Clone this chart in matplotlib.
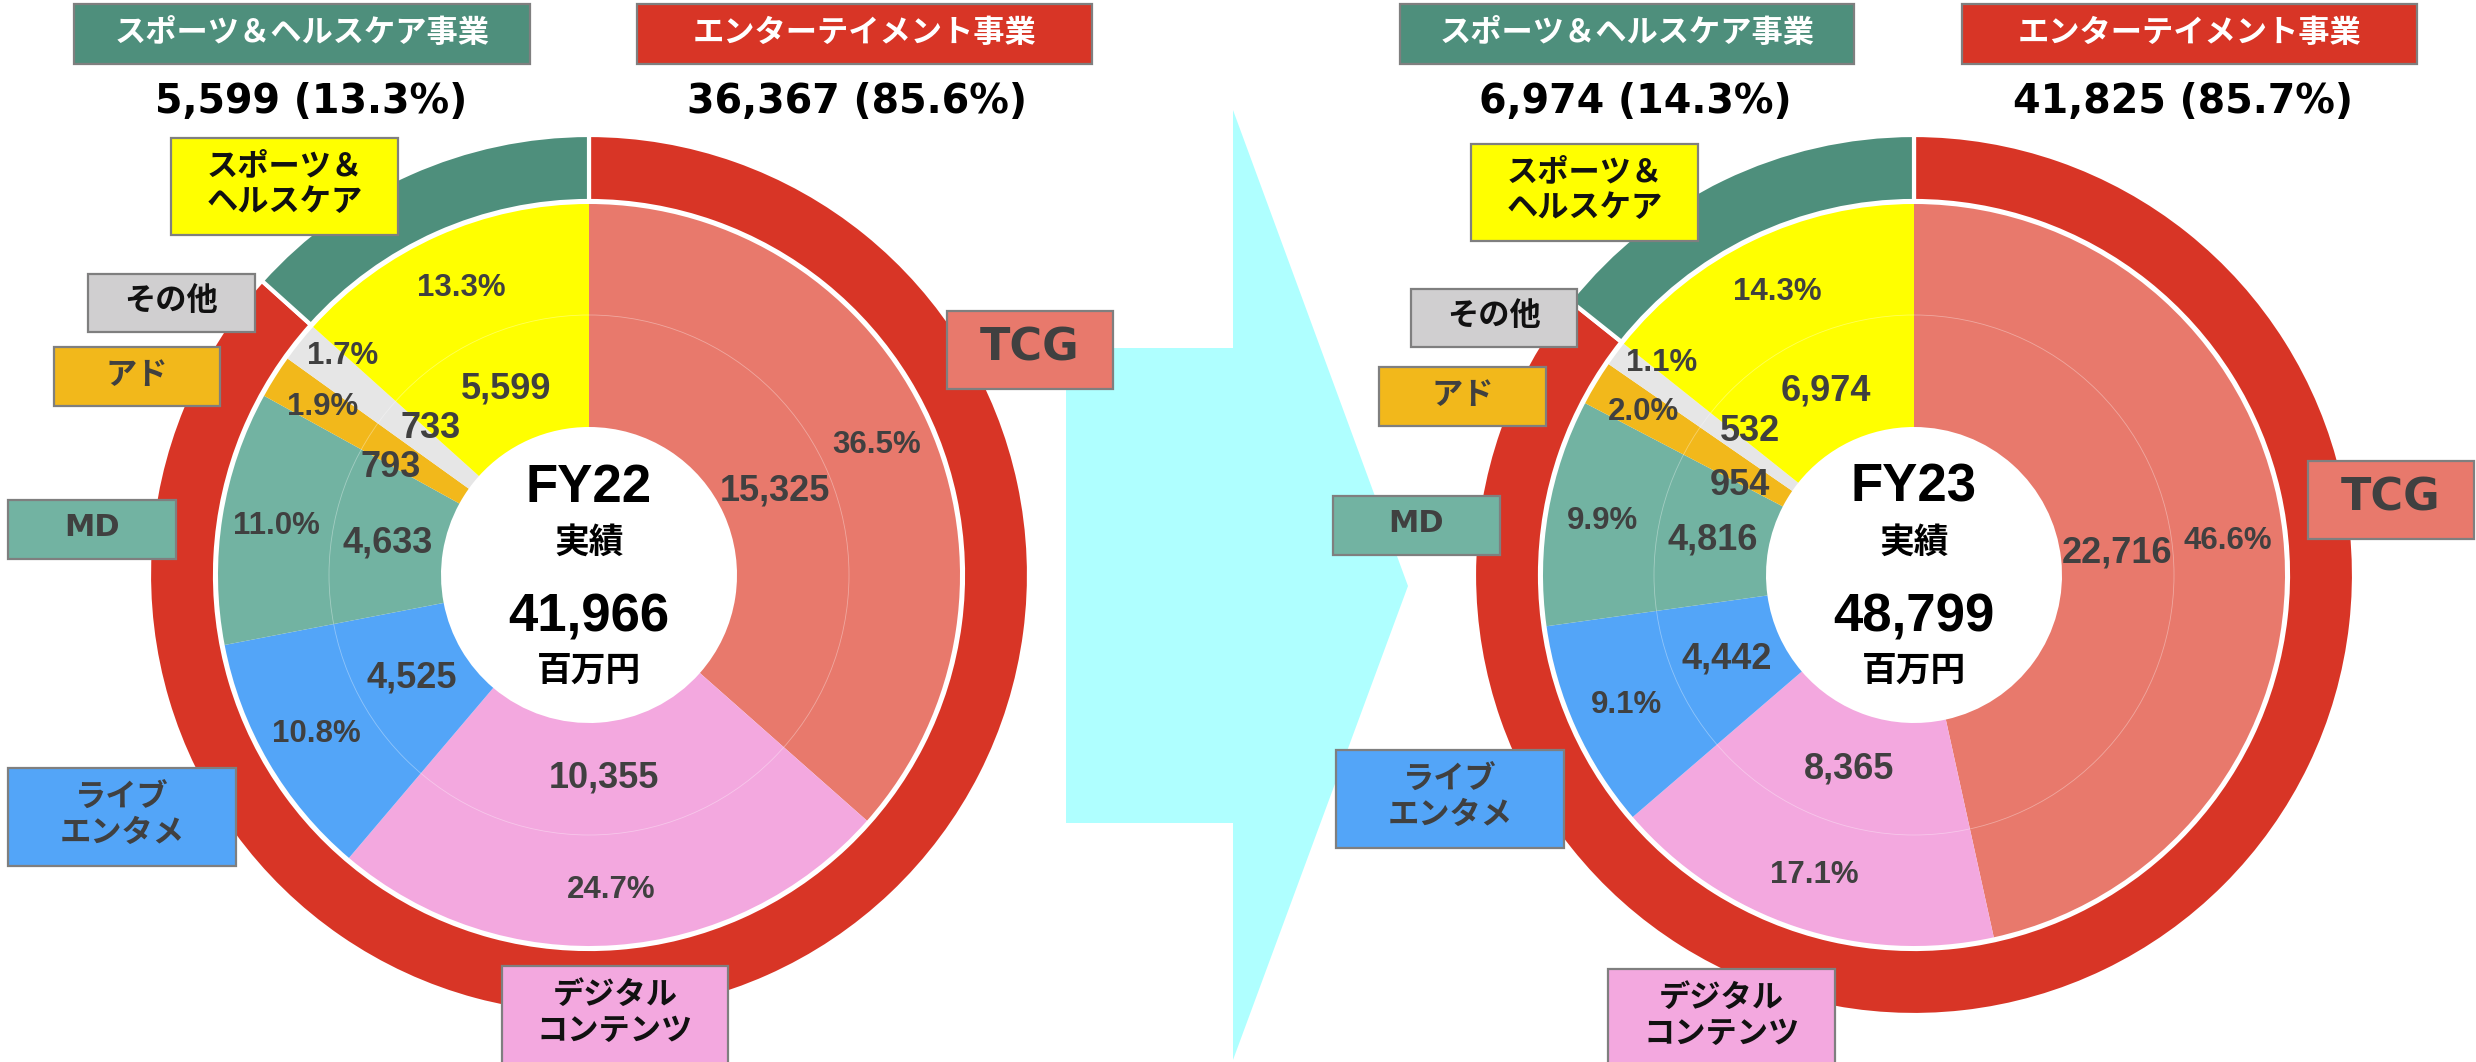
import numpy as np
import matplotlib
matplotlib.use("Agg")
import matplotlib.pyplot as plt
from matplotlib.patches import Rectangle, Polygon, Circle

# ---------------- data ----------------
segments = ["TCG", "デジタル\nコンテンツ", "ライブ\nエンタメ", "MD", "アド", "その他", "スポーツ＆\nヘルスケア"]
fy22_values = [15325, 10355, 4525, 4633, 793, 733, 5599]
fy23_values = [22716, 8365, 4442, 4816, 954, 532, 6974]
years = ["FY22", "FY23"]
year_totals = [41966, 48799]
divisions = ["エンターテイメント事業", "スポーツ＆ヘルスケア事業"]
fy22_division_values = [36367, 5599]
fy23_division_values = [41825, 6974]
fy22_division_pcts = ["85.6%", "13.3%"]
fy23_division_pcts = ["85.7%", "14.3%"]
center_sub = "実績"
unit = "百万円"

# ---------------- style ----------------
W, H = 2476, 1062
seg_colors = ['#E8796C', '#F3A8DF', '#53A5F8', '#72B3A2', '#F2B81B', '#E6E6E6', '#FFFF00']
box_colors = ['#E8796C', '#F3A8DF', '#53A5F8', '#72B3A2', '#F2B81B', '#D0CFD0', '#FFFF00']
seg_text_colors = ['#404040', '#111111', '#404040', '#404040', '#404040', '#111111', '#111111']
div_colors = ['#D83526', '#4E8F7C']
EDGE = '#7F7F7F'
LBL = '#404040'
R_OUT, R_RING_IN, R_PIE, R_MID, R_HOLE = 440, 374, 371, 260, 148
CJK = ['Noto Sans CJK JP', 'DejaVu Sans']
LAT = ['Liberation Sans', 'DejaVu Sans']

centers = [(589, 575), (1914, 575)]
# value-label (radius, angle shift) and pct-label (radius, angle shift) per segment
val_pos = [
    [(204, 0), (204, 0), (205, 0), (204, 0), (226, 3.8), (216, -4.0), (204, 0)],
    [(204, 0), (204, 0), (205, 0), (204, 0), (196, 3.9), (218, -4.7), (204, 0)],
]
pct_pos = [
    [(316, 0), (316, 0), (316, 0), (316, 0), (315, 0), (329, -2.8), (314, 0)],
    [(316, 0), (316, 0), (316, 0), (316, 0), (316, 0), (330, -3.4), (314, 0)],
]
# label boxes (x0, y0, x1, y1) in image pixels, order of segments
label_boxes = [
    [(947, 311, 1113, 389), (502, 966, 728, 1064), (8, 768, 236, 866), (8, 500, 176, 559),
     (54, 347, 220, 406), (88, 274, 255, 332), (171, 138, 398, 235)],
    [(2308, 461, 2474, 539), (1608, 969, 1835, 1067), (1336, 750, 1564, 848), (1333, 496, 1500, 555),
     (1379, 367, 1546, 426), (1411, 289, 1577, 347), (1471, 144, 1698, 241)],
]
header_boxes = [
    [(637, 4, 1092, 64), (74, 4, 530, 64)],
    [(1962, 4, 2417, 64), (1400, 4, 1854, 64)],
]
header_value_x = [[857, 311], [2183, 1635]]
HEADER_VALUE_Y = 102
arrow_pts = [(1066, 348), (1233, 348), (1233, 110), (1408, 586), (1233, 1060), (1233, 823), (1066, 823)]

fig = plt.figure(figsize=(W / 100, H / 100), dpi=100)
ax = fig.add_axes([0, 0, 1, 1])


def Y(y):
    return H - y


# arrow (background)
ax.add_patch(Polygon([(x, Y(y)) for x, y in arrow_pts], closed=True, facecolor='#AFFFFF',
                     edgecolor='none', zorder=0))

all_values = [fy22_values, fy23_values]
all_div_values = [fy22_division_values, fy23_division_values]
all_div_pcts = [fy22_division_pcts, fy23_division_pcts]

for k in range(2):
    cx, cy = centers[k][0], Y(centers[k][1])
    vals = all_values[k]
    total = year_totals[k]
    # outer division ring
    ax.pie(all_div_values[k], radius=R_OUT, center=(cx, cy), startangle=90, counterclock=False,
           colors=div_colors, wedgeprops=dict(width=R_OUT - R_RING_IN, edgecolor='white', linewidth=3),
           frame=True)
    # inner segment pie
    wedges, _ = ax.pie(vals, radius=R_PIE, center=(cx, cy), startangle=90, counterclock=False,
                       colors=seg_colors, wedgeprops=dict(width=R_PIE - R_HOLE, linewidth=0),
                       frame=True)
    ax.add_patch(Circle((cx, cy), R_MID, fill=False, edgecolor='white', lw=0.6, alpha=0.35, zorder=3))

    for i, w in enumerate(wedges):
        mid = 0.5 * (w.theta1 + w.theta2)
        r, da = val_pos[k][i]
        a = np.deg2rad(mid + da)
        ax.text(cx + r * np.cos(a), cy + r * np.sin(a), f"{vals[i]:,}", ha='center', va='center',
                fontsize=26, fontweight='bold', color=LBL, family=LAT, zorder=5)
        r, da = pct_pos[k][i]
        a = np.deg2rad(mid + da)
        ax.text(cx + r * np.cos(a), cy + r * np.sin(a), f"{vals[i] / total * 100:.1f}%", ha='center',
                va='center', fontsize=22.5, fontweight='bold', color=LBL, family=LAT, zorder=5)

    # centre texts
    ax.text(cx, cy + 87, years[k], ha='center', va='center', fontsize=38, fontweight='bold',
            color='black', family=LAT, zorder=5)
    ax.text(cx, cy + 33, center_sub, ha='center', va='center', fontsize=25, fontweight='bold',
            color='black', family=CJK, zorder=5)
    ax.text(cx, cy - 42, f"{total:,}", ha='center', va='center', fontsize=38, fontweight='bold',
            color='black', family=LAT, zorder=5)
    ax.text(cx, cy - 95, unit, ha='center', va='center', fontsize=25, fontweight='bold',
            color='black', family=CJK, zorder=5)

    # segment label boxes
    for i, (x0, y0, x1, y1) in enumerate(label_boxes[k]):
        ax.add_patch(Rectangle((x0, Y(y1)), x1 - x0, y1 - y0, facecolor=box_colors[i],
                               edgecolor=EDGE, lw=1.6, zorder=6))
        name = segments[i]
        if name.isascii():
            fam, fs = ['DejaVu Sans'], (32 if name == 'TCG' else 22)
        else:
            fam, fs = CJK, 22.5
        ax.text((x0 + x1) / 2, Y((y0 + y1) / 2) + 2, name, ha='center', va='center', fontsize=fs,
                fontweight='bold', color=seg_text_colors[i], family=fam, linespacing=1.15, zorder=7)

    # division headers
    for j, (x0, y0, x1, y1) in enumerate(header_boxes[k]):
        ax.add_patch(Rectangle((x0, Y(y1)), x1 - x0, y1 - y0, facecolor=div_colors[j],
                               edgecolor=EDGE, lw=1.6, zorder=6))
        ax.text((x0 + x1) / 2, Y((y0 + y1) / 2) + 1, divisions[j], ha='center', va='center',
                fontsize=22.5, fontweight='bold', color='white', family=CJK, zorder=7)
        ax.text(header_value_x[k][j], Y(HEADER_VALUE_Y),
                f"{all_div_values[k][j]:,} ({all_div_pcts[k][j]})", ha='center', va='center',
                fontsize=28.5, fontweight='bold', color='black', family=['DejaVu Sans'], zorder=7)

ax.set_xlim(0, W)
ax.set_ylim(0, H)
ax.set_aspect('equal')
ax.axis('off')
fig.savefig('out.png', dpi=100, facecolor='white')
